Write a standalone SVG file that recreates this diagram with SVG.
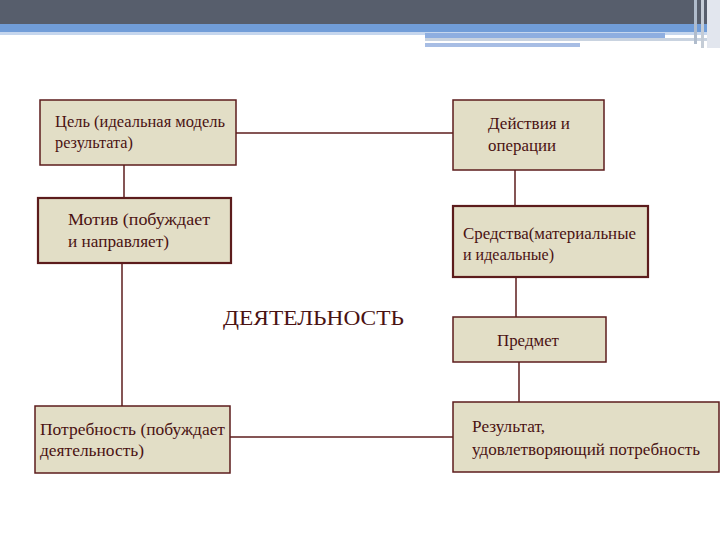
<svg xmlns="http://www.w3.org/2000/svg" width="720" height="540" viewBox="0 0 720 540">
<style>
.box{fill:#e2dec6;stroke:#5c1c1c;stroke-width:1.5}
.box2{fill:#e2dec6;stroke:#5c1c1c;stroke-width:2.2}
.t{font-family:"Liberation Serif","Times New Roman",serif;font-size:17px;fill:#4a1212}
.c{stroke:#5c1c1c;stroke-width:1.5;fill:none}
</style>
<rect x="0" y="0" width="720" height="540" fill="#ffffff"/>
<g id="header">
<rect x="0" y="0" width="720" height="24" fill="#575e6c"/>
<rect x="0" y="24" width="720" height="8" fill="#719dd8"/>
<rect x="0" y="32" width="720" height="3" fill="#c5d6ee"/>
<rect x="425" y="33" width="240" height="5" fill="#8eaee0"/>
<rect x="425" y="38" width="285" height="3" fill="#c9d3e0"/>
<rect x="425" y="43" width="155" height="4" fill="#a7bde4"/>
<rect x="694" y="0" width="3" height="44" fill="#b0bccc"/>
<rect x="701" y="0" width="3" height="48" fill="#c4ccd6"/>
<rect x="707" y="0" width="13" height="48" fill="#e2e6ee"/>
</g>
<g id="connectors">
<line class="c" x1="236" y1="133" x2="453" y2="133"/>
<line class="c" x1="124" y1="165" x2="124" y2="198"/>
<line class="c" x1="122" y1="263" x2="122" y2="406"/>
<line class="c" x1="515" y1="170" x2="515" y2="206"/>
<line class="c" x1="516" y1="277" x2="516" y2="317"/>
<line class="c" x1="519" y1="362" x2="519" y2="402"/>
<line class="c" x1="230" y1="437" x2="453" y2="437"/>
</g>
<g id="goal">
<rect class="box" x="40" y="100" width="196" height="65"/>
<text class="t" x="55" y="127" textLength="170" lengthAdjust="spacingAndGlyphs">Цель (идеальная модель</text>
<text class="t" x="55" y="148" textLength="78" lengthAdjust="spacingAndGlyphs">результата)</text>
</g>
<g id="motive">
<rect class="box2" x="38" y="198" width="193" height="65"/>
<text class="t" x="68" y="225" textLength="142" lengthAdjust="spacingAndGlyphs">Мотив (побуждает</text>
<text class="t" x="68" y="247" textLength="101" lengthAdjust="spacingAndGlyphs">и направляет)</text>
</g>
<g id="need">
<rect class="box" x="35" y="406" width="195" height="67"/>
<text class="t" x="40" y="435" textLength="185" lengthAdjust="spacingAndGlyphs">Потребность (побуждает</text>
<text class="t" x="40" y="456" textLength="104" lengthAdjust="spacingAndGlyphs">деятельность)</text>
</g>
<g id="actions">
<rect class="box" x="453" y="100" width="151" height="70"/>
<text class="t" x="488" y="129" textLength="82" lengthAdjust="spacingAndGlyphs">Действия и</text>
<text class="t" x="488" y="151" textLength="68" lengthAdjust="spacingAndGlyphs">операции</text>
</g>
<g id="means">
<rect class="box2" x="453" y="206" width="195" height="71"/>
<text class="t" x="463" y="239" textLength="173" lengthAdjust="spacingAndGlyphs">Средства(материальные</text>
<text class="t" x="463" y="260" textLength="91" lengthAdjust="spacingAndGlyphs">и идеальные)</text>
</g>
<g id="subject">
<rect class="box" x="453" y="317" width="153" height="45"/>
<text class="t" x="497" y="346" textLength="62" lengthAdjust="spacingAndGlyphs">Предмет</text>
</g>
<g id="result">
<rect class="box" x="453" y="402" width="266" height="70"/>
<text class="t" x="472" y="432" textLength="73" lengthAdjust="spacingAndGlyphs">Результат,</text>
<text class="t" x="472" y="455" textLength="228" lengthAdjust="spacingAndGlyphs">удовлетворяющий потребность</text>
</g>
<g id="title">
<text x="223" y="325" font-family="Liberation Serif, Times New Roman, serif" font-size="21" fill="#4a1212" textLength="181" lengthAdjust="spacingAndGlyphs">ДЕЯТЕЛЬНОСТЬ</text>
</g>
</svg>
